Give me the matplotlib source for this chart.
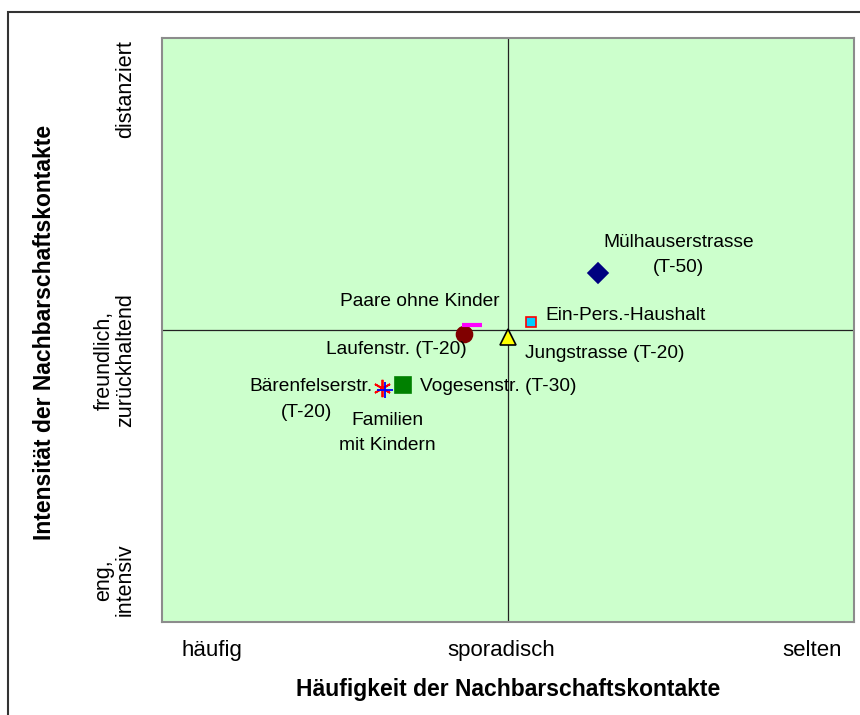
import matplotlib.pyplot as plt
import matplotlib.patches as patches

plt.rcParams['font.family'] = ['Liberation Sans', 'DejaVu Sans']

# Position on both axes: 0 = häufig / eng, 1 = sporadisch / freundlich, 2 = selten / distanziert
names = ["Mülhauserstrasse", "Ein-Pers.-Haushalt", "Jungstrasse", "Laufenstr.",
         "Paare ohne Kinder", "Bärenfelserstr.", "Familien mit Kindern", "Vogesenstr."]
freq = [1.26, 1.066, 1.0, 0.873, 0.896, 0.636, 0.645, 0.697]
intens = [1.195, 1.027, 0.976, 0.986, 1.017, 0.801, 0.795, 0.812]
markers = ['D', 's', '^', 'o', '_', (6, 2, 0), '+', 's']
faces = ['#000080', '#00CCFF', '#FFFF00', '#800000', '#FF00FF', '#FF0000', '#0000FF', '#008000']
edges = ['#000080', '#FF0000', '#000000', '#800000', '#FF00FF', '#FF0000', '#0000FF', '#008000']
sizes = [10, 7.5, 11, 11.5, 14, 12.5, 11, 11.5]

x_cats = ["häufig", "sporadisch", "selten"]
x_cat_pos = [0.145, 0.98, 1.88]
y_cats = ["eng,\nintensiv", "freundlich,\nzurückhaltend", "distanziert"]
y_cat_pos = [0.144, 0.897, 1.825]

fig = plt.figure(figsize=(8.6, 7.15), dpi=100)
ax = fig.add_axes([0.1884, 0.1301, 0.8047, 0.8168])
ax.set_facecolor('#CCFFCC')
ax.set_xlim(0, 2)
ax.set_ylim(0, 2)
ax.set_xticks([])
ax.set_yticks([])
for s in ax.spines.values():
    s.set_color('#8C8C8C')
    s.set_linewidth(1.5)

ax.axvline(1, color='#222222', lw=0.9, zorder=1)
ax.axhline(1, color='#222222', lw=0.9, zorder=1)

for i in range(len(names)):
    mew = 3 if markers[i] == '_' else (1.3 if i in (5, 6) else 1.2)
    ax.plot(freq[i], intens[i], marker=markers[i], ms=sizes[i], mfc=faces[i],
            mec=edges[i], mew=mew, ls='none', zorder=3)

fs = 13.8
ax.text(1.494, 1.257, "Mülhauserstrasse\n(T-50)", ha='center', va='center', fontsize=fs, linespacing=1.6)
ax.text(1.107, 1.048, "Ein-Pers.-Haushalt", ha='left', va='center', fontsize=fs)
ax.text(1.049, 0.921, "Jungstrasse (T-20)", ha='left', va='center', fontsize=fs)
ax.text(0.977, 1.096, "Paare ohne Kinder", ha='right', va='center', fontsize=fs)
ax.text(0.882, 0.932, "Laufenstr. (T-20)", ha='right', va='center', fontsize=fs)
ax.text(0.607, 0.805, "Bärenfelserstr.", ha='right', va='center', fontsize=fs)
ax.text(0.419, 0.716, "(T-20)", ha='center', va='center', fontsize=fs)
ax.text(0.746, 0.805, "Vogesenstr. (T-30)", ha='left', va='center', fontsize=fs)
ax.text(0.65, 0.647, "Familien\nmit Kindern", ha='center', va='center', fontsize=fs, linespacing=1.6)

for lab, p in zip(x_cats, x_cat_pos):
    ax.text(p, -0.062, lab, ha='center', va='top', fontsize=16)
for lab, p in zip(y_cats, y_cat_pos):
    ax.text(-0.075, p, lab, ha='right', va='center', rotation=90, fontsize=15.5,
            linespacing=1.05, multialignment='center')

fig.text(0.5913, 0.035, "Häufigkeit der Nachbarschaftskontakte", ha='center', va='center',
         fontsize=16.5, fontweight='bold')
fig.text(0.052, 0.5357, "Intensität der Nachbarschaftskontakte", ha='center', va='center',
         rotation=90, fontsize=16.5, fontweight='bold')

border = patches.Rectangle((0.0093, -0.05), 1.1, 0.9832 + 0.05, transform=fig.transFigure,
                           fill=False, edgecolor='#333333', lw=1.5, clip_on=False)
fig.patches.append(border)

fig.savefig('out.png', dpi=100)
